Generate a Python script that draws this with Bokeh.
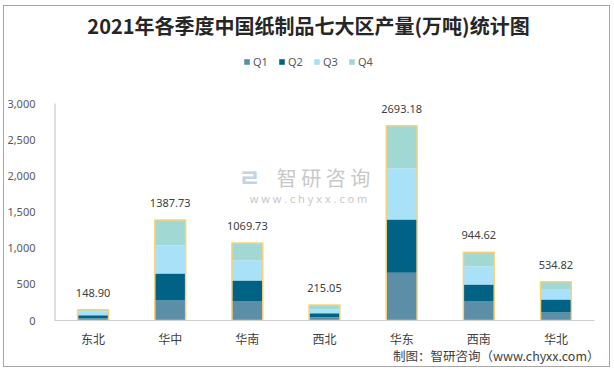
from bokeh.plotting import figure
from bokeh.models import (FactorRange, Range1d, Label, LabelSet, Legend, LegendItem, Title,
                          NumeralTickFormatter, FixedTicker, ColumnDataSource)
from bokeh.embed import file_html
from bokeh.resources import INLINE
from bokeh.core.properties import value

regions = ["东北", "华中", "华南", "西北", "华东", "西南", "华北"]
quarters = ["Q1", "Q2", "Q3", "Q4"]
q1 = [32, 277, 263, 46, 660, 263, 111]
q2 = [41, 373, 290, 55, 737, 235, 179]
q3 = [56, 387, 277, 55, 709, 249, 135]
q4 = [19.90, 350.73, 239.73, 59.05, 587.18, 197.62, 109.82]
totals = [148.90, 1387.73, 1069.73, 215.05, 2693.18, 944.62, 534.82]
y_ticks = [0, 500, 1000, 1500, 2000, 2500, 3000]

colors = ["#5C8FA7", "#006285", "#A8E1F8", "#A2D8D4"]
CJK = "Noto Sans CJK SC"

# layout: the frame spans title + legend area; value axis occupies the lower 217 px
FRAME_H = 314
AXIS_PX = 217
y_top = y_ticks[-1] * FRAME_H / AXIS_PX

src = ColumnDataSource(dict(x=regions, Q1=q1, Q2=q2, Q3=q3, Q4=q4,
                            total=totals, lab=[f"{t:.2f}" for t in totals]))

p = figure(frame_width=540, frame_height=FRAME_H, output_backend="svg", toolbar_location=None,
           x_range=FactorRange(*regions, range_padding=0), y_range=Range1d(0, y_top),
           min_border_left=49, min_border_right=15, min_border_top=0, min_border_bottom=46,
           title_location=None,
           styles={"border": "1px solid #A6A6A6", "margin": "5px 0 0 3px"})
p.outline_line_color = None
p.xgrid.grid_line_color = None
p.ygrid.grid_line_color = None
p.background_fill_color = "white"
p.border_fill_color = "white"

rs = p.vbar_stack(quarters, x="x", width=0.4, color=colors, line_color=None, source=src)
p.vbar(x="x", top="total", width=0.4, fill_color=None, line_color="#F7D279",
       line_width=1.5, source=src)

p.add_layout(LabelSet(x="x", y="total", text="lab", source=src, text_align="center",
                      text_baseline="middle", y_offset=17, text_font_size="11px",
                      text_color="#404040", text_font=value("Noto Sans")))

# value axis line only over the value span
p.segment(x0=[0], y0=[y_ticks[0]], x1=[0], y1=[y_ticks[-1]], line_color="#BFBFBF", line_width=2)

# axes
p.yaxis.ticker = FixedTicker(ticks=y_ticks)
p.yaxis.formatter = NumeralTickFormatter(format="0,0")
p.yaxis.major_tick_line_color = None
p.yaxis.minor_tick_line_color = None
p.yaxis.axis_line_color = None
p.yaxis.major_label_standoff = 13
p.yaxis.major_label_text_font_size = "11px"
p.yaxis.major_label_text_color = "#595959"
p.yaxis.major_label_text_font = "Noto Sans"

p.xaxis.major_tick_line_color = None
p.xaxis.minor_tick_line_color = None
p.xaxis.axis_line_color = "#D0D0D0"
p.xaxis.major_label_standoff = 3
p.xaxis.major_label_text_font_size = "12px"
p.xaxis.major_label_text_color = "#404040"
p.xaxis.major_label_text_font = CJK

# legend
legend = Legend(items=[LegendItem(label=q, renderers=[r]) for q, r in zip(quarters, rs)],
                orientation="horizontal", location=(189, 251),
                glyph_width=7, glyph_height=7, label_standoff=3, label_width=16,
                label_height=12, spacing=9, padding=0, margin=0,
                border_line_color=None, background_fill_alpha=0,
                label_text_font_size="11px", label_text_color="#595959",
                label_text_font="Noto Sans")
p.add_layout(legend, "center")

# title
p.add_layout(Label(x=254, y=295.5, x_units="screen", y_units="screen",
                   text="2021年各季度中国纸制品七大区产量(万吨)统计图",
                   text_align="center", text_baseline="middle", text_font_size="20px",
                   text_font_style="bold", text_color="#262626", text_font=CJK))

# source note (below the x axis)
p.add_layout(Title(text="制图：智研咨询（www.chyxx.com）", align="right", offset=-5,
                   standoff=-12, text_font_size="12.5px", text_font_style="normal",
                   text_color="#404040", text_font=CJK), "below")

# watermark
p.add_layout(Label(x=195, y=144, x_units="screen", y_units="screen", text="ㄹ",
                   text_align="center", text_baseline="middle", text_font_size="24px",
                   text_font_style="bold", text_color="#C4D3E2", text_font="Noto Sans CJK KR"))
p.add_layout(Label(x=269, y=143.5, x_units="screen", y_units="screen", text="智 研 咨 询",
                   text_align="center", text_baseline="middle", text_font_size="20px",
                   text_color="#C8C8C8", text_font=CJK))
p.add_layout(Label(x=254, y=122, x_units="screen", y_units="screen",
                   text="w w w . c h y x x . c o m",
                   text_align="center", text_baseline="middle", text_font_size="11px",
                   text_color="#C8C8C8", text_font="Noto Sans"))

open("out.html", "w").write(file_html(p, INLINE))
